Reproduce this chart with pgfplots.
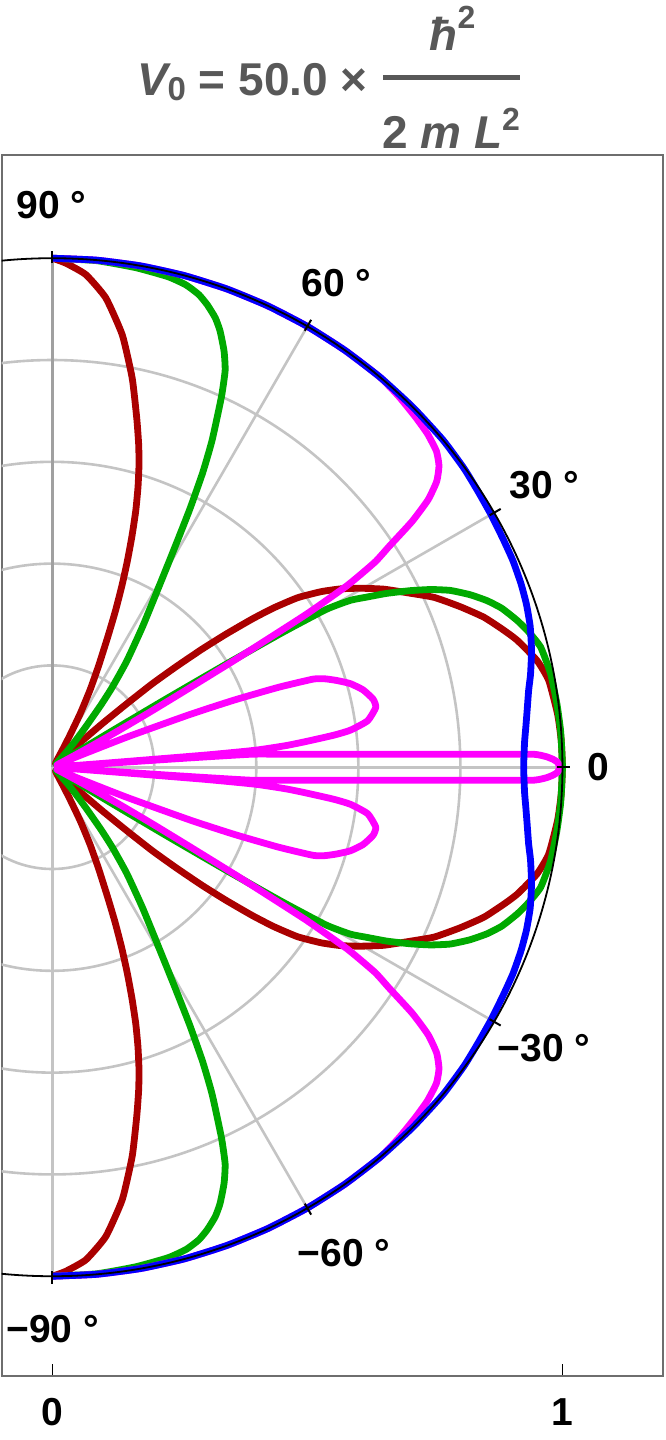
\documentclass[border=0pt]{standalone}
\usepackage{pgfplots}
\pgfplotsset{compat=1.18}
\usepackage{fontspec}
\setmainfont{Liberation Sans}
\definecolor{dred}{RGB}{170,0,0}
\definecolor{dgreen}{RGB}{0,170,0}
\definecolor{mag}{RGB}{255,0,255}
\definecolor{blu}{RGB}{0,0,255}
\definecolor{gridc}{RGB}{196,196,196}
\definecolor{vaxis}{RGB}{160,160,160}
\definecolor{framec}{RGB}{110,110,110}
\definecolor{titlec}{RGB}{88,88,88}
\newcommand{\lbl}{\fontsize{19.5}{22}\selectfont\bfseries}
\newcommand{\ttl}{\fontsize{23}{26}\selectfont\bfseries}
\pgfplotsset{curve/.style={line width=3.4pt, line join=round, smooth, tension=0.3, data cs=polar}}
\begin{document}
\begin{tikzpicture}
\begin{axis}[
  scale only axis,
  width=330.8pt, height=610.5pt,
  xmin=-0.099, xmax=1.1977,
  ymin=-1.196, ymax=1.2028,
  axis line style={framec, line width=1pt},
  xtick={0,1}, xticklabels={0,1},
  ytick=\empty,
  tick align=inside,
  xtick pos=left,
  x tick style={black, line width=0.5pt},
  major tick length=6pt,
  xticklabel style={font=\lbl, inner sep=0pt, yshift=-11pt},
]
% grid
\draw[gridc, line width=1.3pt] (axis cs:0,0) circle[radius=0.2];
\draw[gridc, line width=1.3pt] (axis cs:0,0) circle[radius=0.4];
\draw[gridc, line width=1.3pt] (axis cs:0,0) circle[radius=0.6];
\draw[gridc, line width=1.3pt] (axis cs:0,0) circle[radius=0.8];
\draw[gridc, line width=1.3pt] (axis cs:0,0) -- (axis cs:1,0);
\draw[gridc, line width=1.3pt] (axis cs:0,0) -- (axis cs:0.8660,0.5);
\draw[gridc, line width=1.3pt] (axis cs:0,0) -- (axis cs:0.5,0.8660);
\draw[gridc, line width=1.3pt] (axis cs:0,0) -- (axis cs:0.8660,-0.5);
\draw[gridc, line width=1.3pt] (axis cs:0,0) -- (axis cs:0.5,-0.8660);
\draw[gridc, line width=1.3pt] (axis cs:0,0) -- (axis cs:0,-1);
\draw[vaxis, line width=1.3pt] (axis cs:0,0) -- (axis cs:0,1);

% red
\addplot[dred, curve] coordinates {
(-90,1.0) (-88.5,0.991) (-86.1,0.97) (-83.5,0.928) (-80.8,0.86) (-78.4,0.78) (-76.4,0.705) (-75,0.655) (-74,0.617) (-73,0.575) (-72,0.53) (-71,0.48) (-70,0.43) (-69,0.38) (-68,0.33) (-67,0.28) (-65.5,0.22) (-64,0.17) (-62.5,0.12) (-61,0.07) (-59.5,0.04) (-58,0.025) (-55,0.015) (-50,0.01) (-44,0.015) (-42.2,0.03) (-41.6,0.07) (-41.1,0.13) (-40.5,0.19) (-39.9,0.256) (-39.1,0.315) (-38.3,0.375) (-37.5,0.43) (-36.6,0.489) (-35.8,0.535) (-34.7,0.585) (-33.2,0.63) (-31.8,0.665) (-30.2,0.699) (-28.3,0.738) (-26,0.78) (-24,0.82) (-21.5,0.86) (-19.2,0.896) (-17,0.924) (-15.3,0.945) (-12.45,0.973) (-9.94,0.988) (-6,0.996) (-3,0.999)
(0,1.0)
(3,0.999) (6,0.996) (9.94,0.988) (12.45,0.973) (15.3,0.945) (17,0.924) (19.2,0.896) (21.5,0.86) (24,0.82) (26,0.78) (28.3,0.738) (30.2,0.699) (31.8,0.665) (33.2,0.63) (34.7,0.585) (35.8,0.535) (36.6,0.489) (37.5,0.43) (38.3,0.375) (39.1,0.315) (39.9,0.256) (40.5,0.19) (41.1,0.13) (41.6,0.07) (42.2,0.03) (44,0.015) (50,0.01) (55,0.015) (58,0.025) (59.5,0.04) (61,0.07) (62.5,0.12) (64,0.17) (65.5,0.22) (67,0.28) (68,0.33) (69,0.38) (70,0.43) (71,0.48) (72,0.53) (73,0.575) (74,0.617) (75,0.655) (76.4,0.705) (78.4,0.78) (80.8,0.86) (83.5,0.928) (86.1,0.97) (88.5,0.991) (90,1.0)
};

% green
\addplot[dgreen, curve] coordinates {
(-90,1.0) (-85,0.999) (-80.5,0.995) (-76.7,0.99) (-74.5,0.983) (-72.8,0.972) (-71.5,0.958) (-70.1,0.939) (-69,0.918) (-67.6,0.884) (-66.5,0.85) (-65.5,0.80) (-64,0.715) (-63,0.65) (-62,0.575) (-61,0.50) (-60.2,0.45) (-59,0.39) (-57.3,0.327) (-55,0.255) (-53.2,0.197) (-52,0.155) (-50.4,0.103) (-48.5,0.065) (-47,0.04) (-45,0.02) (-42,0.01) (-36,0.01) (-32.5,0.02) (-31.7,0.06) (-31.3,0.14) (-31,0.26) (-30.7,0.40) (-30.4,0.52) (-30,0.62) (-29.3,0.67) (-28.5,0.70) (-27.5,0.74) (-26.3,0.783) (-25.2,0.82) (-24,0.854) (-22.5,0.886) (-21,0.913) (-19.5,0.935) (-17.55,0.956) (-16,0.97) (-13.85,0.986) (-10.65,0.994) (-7.2,0.997) (-4,0.999)
(0,1.0)
(4,0.999) (7.2,0.997) (10.65,0.994) (13.85,0.986) (16,0.97) (17.55,0.956) (19.5,0.935) (21,0.913) (22.5,0.886) (24,0.854) (25.2,0.82) (26.3,0.783) (27.5,0.74) (28.5,0.70) (29.3,0.67) (30,0.62) (30.4,0.52) (30.7,0.40) (31,0.26) (31.3,0.14) (31.7,0.06) (32.5,0.02) (36,0.01) (42,0.01) (45,0.02) (47,0.04) (48.5,0.065) (50.4,0.103) (52,0.155) (53.2,0.197) (55,0.255) (57.3,0.327) (59,0.39) (60.2,0.45) (61,0.50) (62,0.575) (63,0.65) (64,0.715) (65.5,0.80) (66.5,0.85) (67.6,0.884) (69,0.918) (70.1,0.939) (71.5,0.958) (72.8,0.972) (74.5,0.983) (76.7,0.99) (80.5,0.995) (85,0.999) (90,1.0)
};

% magenta
\addplot[mag, curve] coordinates {
(-90,1.0) (-85,1.0) (-80,1.0) (-75,1.0) (-70,1.0) (-65,1.0) (-60,1.0) (-55,1.0) (-50,1.0) (-47,0.996) (-44,0.99) (-41.7,0.985) (-39.5,0.976) (-38,0.962) (-36.7,0.94) (-35.5,0.905) (-34.4,0.855) (-33.3,0.79) (-32.5,0.75) (-31.7,0.68) (-31.1,0.58) (-30.5,0.42) (-30,0.30) (-29.5,0.22) (-29,0.15) (-28.3,0.08) (-27.5,0.03) (-26,0.01) (-24,0.02) (-23,0.06) (-22,0.16) (-21,0.29) (-20.3,0.38) (-19.5,0.47) (-18.7,0.54) (-18,0.562) (-17,0.583) (-15.7,0.607) (-14,0.628) (-12,0.643) (-10.5,0.645) (-8.4,0.625) (-7.1,0.589) (-6.5,0.555) (-5.8,0.50) (-5.3,0.46) (-4.8,0.40) (-4.55,0.30) (-4.35,0.10) (-4.2,0.02) (-4.05,0.08) (-3.9,0.25) (-3.75,0.39) (-3.25,0.45) (-2.92,0.50) (-2.44,0.60) (-2.09,0.70) (-1.83,0.80) (-1.62,0.90) (-1.55,0.944) (-1.4,0.958) (-1.2,0.97) (-0.9,0.982) (-0.6,0.99) (-0.3,0.993)
(0,0.994)
(0.3,0.993) (0.6,0.99) (0.9,0.982) (1.2,0.97) (1.4,0.958) (1.55,0.944) (1.62,0.90) (1.83,0.80) (2.09,0.70) (2.44,0.60) (2.92,0.50) (3.25,0.45) (3.75,0.39) (3.9,0.25) (4.05,0.08) (4.2,0.02) (4.35,0.10) (4.55,0.30) (4.8,0.40) (5.3,0.46) (5.8,0.50) (6.5,0.555) (7.1,0.589) (8.4,0.625) (10.5,0.645) (12,0.643) (14,0.628) (15.7,0.607) (17,0.583) (18,0.562) (18.7,0.54) (19.5,0.47) (20.3,0.38) (21,0.29) (22,0.16) (23,0.06) (24,0.02) (26,0.01) (27.5,0.03) (28.3,0.08) (29,0.15) (29.5,0.22) (30,0.30) (30.5,0.42) (31.1,0.58) (31.7,0.68) (32.5,0.75) (33.3,0.79) (34.4,0.855) (35.5,0.905) (36.7,0.94) (38,0.962) (39.5,0.976) (41.7,0.985) (44,0.99) (47,0.996) (50,1.0) (55,1.0) (60,1.0) (65,1.0) (70,1.0) (75,1.0) (80,1.0) (85,1.0) (90,1.0)
};

% blue
\addplot[blu, curve] coordinates {
(-90,1.0) (-85,1.0) (-80,1.0) (-75,1.0) (-70,1.0) (-65,1.0) (-60,1.0) (-55,1.0) (-50,1.0) (-45,1.0) (-40,1.0) (-36,0.998) (-33,0.995) (-30,0.993) (-27,0.991) (-24.2,0.99) (-21.4,0.987) (-19,0.983) (-16.5,0.977) (-13.7,0.967) (-11,0.955) (-9.2,0.946) (-7,0.938) (-5,0.932) (-3,0.927)
(0,0.924)
(3,0.927) (5,0.932) (7,0.938) (9.2,0.946) (11,0.955) (13.7,0.967) (16.5,0.977) (19,0.983) (21.4,0.987) (24.2,0.99) (27,0.991) (30,0.993) (33,0.995) (36,0.998) (40,1.0) (45,1.0) (50,1.0) (55,1.0) (60,1.0) (65,1.0) (70,1.0) (75,1.0) (80,1.0) (85,1.0) (90,1.0)
};

% outer circle and ticks
\draw[black, line width=0.9pt] (axis cs:0,0) circle[radius=1];
\draw[black, line width=1pt] (axis cs:0.99,0) -- (axis cs:1.015,0);
\draw[black, line width=1pt] (axis cs:0.8574,0.495) -- (axis cs:0.879,0.5075);
\draw[black, line width=1pt] (axis cs:0.495,0.8574) -- (axis cs:0.5075,0.879);
\draw[black, line width=1pt] (axis cs:0,0.99) -- (axis cs:0,1.015);
\draw[black, line width=1pt] (axis cs:0.8574,-0.495) -- (axis cs:0.879,-0.5075);
\draw[black, line width=1pt] (axis cs:0.495,-0.8574) -- (axis cs:0.5075,-0.879);
\draw[black, line width=1pt] (axis cs:0,-0.99) -- (axis cs:0,-1.015);

% angle labels
\node[inner sep=0pt, font=\lbl] at (axis cs:-0.0014,1.1045) {90 °};
\node[inner sep=0pt, font=\lbl] at (axis cs:0.5572,0.9513) {60 °};
\node[inner sep=0pt, font=\lbl] at (axis cs:0.9645,0.5544) {30 °};
\node[inner sep=0pt, font=\lbl] at (axis cs:1.0698,0.0004) {0};
\node[inner sep=0pt, font=\lbl] at (axis cs:0.964,-0.5515) {−30 °};
\node[inner sep=0pt, font=\lbl] at (axis cs:0.5719,-0.9543) {−60 °};
\node[inner sep=0pt, font=\lbl] at (axis cs:0.0006,-1.1037) {−90 °};

% coordinates for title and bounding box
\coordinate (BL) at (rel axis cs:0,0);
\coordinate (TR) at (rel axis cs:1,1);
\coordinate (T1) at (axis cs:0.619,1.3206);
\coordinate (TN) at (axis cs:0.7846,1.409);
\coordinate (TBa) at (axis cs:0.649,1.3554);
\coordinate (TBb) at (axis cs:0.917,1.3554);
\coordinate (TD) at (axis cs:0.7817,1.2165);
\end{axis}

% title
\node[anchor=base east, inner sep=0pt, text=titlec, font=\ttl] at (T1)
  {\itshape V\upshape\raisebox{-2.5pt}{\fontsize{16.5}{18}\selectfont 0} = 50.0 ×};
\node[anchor=base, inner sep=0pt, text=titlec, font=\ttl] at (TN)
  {\itshape ħ\upshape\raisebox{11pt}{\fontsize{16}{18}\selectfont 2}};
\draw[titlec, line width=2.5pt] (TBa) -- (TBb);
\node[anchor=base, inner sep=0pt, text=titlec, font=\ttl] at (TD)
  {2 \itshape m L\upshape\raisebox{9pt}{\fontsize{16}{18}\selectfont 2}};

\pgfresetboundingbox
\path[use as bounding box] ([shift={(-0.85pt,-32pt)}]BL) rectangle ([shift={(0.85pt,77.5pt)}]TR);
\end{tikzpicture}
\end{document}
